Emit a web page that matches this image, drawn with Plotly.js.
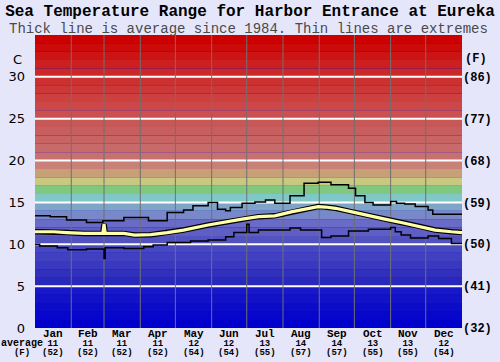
<!DOCTYPE html>
<html>
<head>
<meta charset="utf-8">
<script src="https://cdn.plot.ly/plotly-3.0.1.min.js"></script>
<style>
html,body{margin:0;padding:0;background:#e6e6fa;}
#chart{width:500px;height:362px;}
</style>
</head>
<body>
<div id="chart"></div>
<script>
// ---- data ----
const months = ['Jan','Feb','Mar','Apr','May','Jun','Jul','Aug','Sep','Oct','Nov','Dec'];
const monthAvgC = [11,11,11,11,12,12,13,14,14,13,13,12];
const monthAvgF = [52,52,52,52,54,54,55,57,57,55,55,54];
const monthStarts = [0,31,59,90,120,151,181,212,243,273,304,334,365];
const cTicks = [0,5,10,15,20,25,30];
const fTicks = [32,41,50,59,68,77,86];

const avgDays = [0,16,27,42,58,59,60,76,85,99,113,127,148,163,177,191,205,220,233,242,248,257,270,285,299,313,327,342,356,365];
const avgTemps = [11.5,11.5,11.4,11.3,11.3,12.4,11.3,11.3,11.1,11.15,11.4,11.7,12.3,12.7,13.0,13.3,13.4,13.9,14.2,14.5,14.45,14.3,13.9,13.4,13.0,12.6,12.2,11.7,11.5,11.4];

const maxDays = [0,13,27,44,58,76,97,113,127,135,148,156,163,167,177,188,197,205,218,230,242,253,268,274,282,289,304,309,316,325,336,340,365];
const maxTemps = [13.4,13.3,12.9,12.6,12.8,13.2,12.8,13.8,14.1,14.6,15.0,14.2,14.0,14.4,14.9,15.05,15.3,14.9,15.8,17.3,17.4,17.1,16.7,15.8,15.0,14.7,15.1,14.9,14.8,14.5,14.1,13.6,13.6];

const minDays = [0,4,19,28,44,58,59,60,76,93,101,113,133,148,163,170,181,183,191,218,227,245,253,268,285,304,308,313,321,336,345,356,365];
const minTemps = [10.0,9.8,9.6,9.35,9.45,9.4,8.3,9.6,9.5,9.7,9.9,10.2,10.4,10.5,10.9,11.4,12.4,11.4,11.7,11.95,11.7,10.8,11.0,11.6,11.8,12.0,11.5,11.1,10.75,11.0,10.7,10.1,10.1];

// ---- style ----
const bandColors = ['#0000cc','#0606cc','#0c0cc8','#1212c8','#1818c8',
  '#2828bc','#3030bc','#3838c0','#4040c0','#4848c0',
  '#5252c0','#5e5ec4','#6a6ac8','#7888c8','#80a4c8',
  '#80c8c8','#80c880','#c8c880','#c8a078','#c88078',
  '#c87070','#c86a6a','#c86464','#c85e5e','#c85858',
  '#cc5050','#cc4848','#cc4040','#cc3838','#cc3030',
  '#cc2828','#cc2020','#cc1414','#cc0a0a','#cc0000'];
const mono = 'Liberation Mono, Courier New, monospace';

const shapes = [];
bandColors.forEach((c,i)=>{
  shapes.push({type:'rect',xref:'paper',yref:'y',x0:0,x1:1,y0:i,y1:i+1,
    fillcolor:c,line:{width:0},layer:'below'});
});
cTicks.slice(1).forEach(v=>{
  shapes.push({type:'line',xref:'paper',yref:'y',x0:0,x1:1,y0:v,y1:v,
    line:{color:'#ffffff',width:2},layer:'below'});
});
monthStarts.slice(1,12).forEach(d=>{
  shapes.push({type:'line',xref:'x',yref:'paper',x0:d,x1:d,y0:0,y1:1,
    line:{color:'#707070',width:1},layer:'below'});
});

const annotations = [];
months.forEach((m,i)=>{
  const mid = (monthStarts[i]+monthStarts[i+1])/2;
  annotations.push({x:mid,y:0,xref:'x',yref:'paper',xanchor:'center',yanchor:'top',yshift:1,
    showarrow:false,borderpad:0,
    text:'<span style="font-size:11px"><b>'+m+'</b></span><br><span style="font-size:9px"><b>'+monthAvgC[i]+
      '</b></span><br><span style="font-size:9px"><b>('+monthAvgF[i]+')</b></span>',
    font:{family:mono,size:7,color:'#000'}});
});
annotations.push({x:0,y:0,xref:'paper',yref:'paper',xanchor:'center',yanchor:'top',xshift:-13,yshift:-9,
  showarrow:false,borderpad:0,
  text:'<span style="font-size:10px"><b>average</b></span><br><span style="font-size:9px"><b>(F)</b></span>',
  font:{family:mono,size:7,color:'#000'}});
annotations.push({text:'C',showarrow:false,xref:'paper',yref:'y',x:0,y:32.1,xanchor:'center',xshift:-18,
  font:{family:'DejaVu Sans, sans-serif',size:13,color:'#000'}});
annotations.push({text:'<b>(F)</b>',showarrow:false,xref:'paper',yref:'y',x:1,y:32.1,xanchor:'center',xshift:14,
  font:{family:mono,size:12,color:'#000'}});
annotations.push({text:'Thick line is average since 1984. Thin lines are extremes',showarrow:false,
  xref:'paper',yref:'paper',x:0.5,y:1,yshift:6.5,yanchor:'middle',xanchor:'center',borderpad:0,
  font:{family:mono,size:14,color:'#4a4a4a'}});

const traces = [
  {x:maxDays,y:maxTemps,type:'scatter',mode:'lines',line:{color:'#000',width:1.5,shape:'hv'},yaxis:'y2',hoverinfo:'skip'},
  {x:minDays,y:minTemps,type:'scatter',mode:'lines',line:{color:'#000',width:1.5,shape:'hv'},hoverinfo:'skip'},
  {x:avgDays,y:avgTemps,type:'scatter',mode:'lines',line:{color:'#000',width:5.5},hoverinfo:'skip'},
  {x:avgDays,y:avgTemps,type:'scatter',mode:'lines',line:{color:'#ffffa8',width:3.2},hoverinfo:'skip'}
];

const layout = {
  width:500,height:362,
  margin:{l:35,r:38,t:35,b:34,pad:0},
  paper_bgcolor:'#e6e6fa',plot_bgcolor:'#0000cc',
  showlegend:false,
  title:{text:'<b>Sea Temperature Range for Harbor Entrance at Eureka</b>',
    font:{family:mono,size:16,color:'#000'},x:0.5,xanchor:'center',
    yref:'container',y:1-10.5/362,yanchor:'middle'},
  xaxis:{range:[0,365],showgrid:false,zeroline:false,showline:false,showticklabels:false,ticks:'',fixedrange:true},
  yaxis:{range:[0,35],tickvals:cTicks,showgrid:false,zeroline:false,showline:false,ticks:'',
    ticklabelstandoff:9,tickfont:{family:'DejaVu Sans, sans-serif',size:13,color:'#000'}},
  yaxis2:{range:[0,35],overlaying:'y',side:'right',tickvals:cTicks,ticktext:fTicks.map(f=>'<b>('+f+')</b>'),
    showgrid:false,zeroline:false,showline:false,ticks:'',
    tickfont:{family:mono,size:12,color:'#000'}},
  shapes:shapes,
  annotations:annotations
};

Plotly.newPlot('chart',traces,layout,{displayModeBar:false,staticPlot:true});
</script>
</body>
</html>
